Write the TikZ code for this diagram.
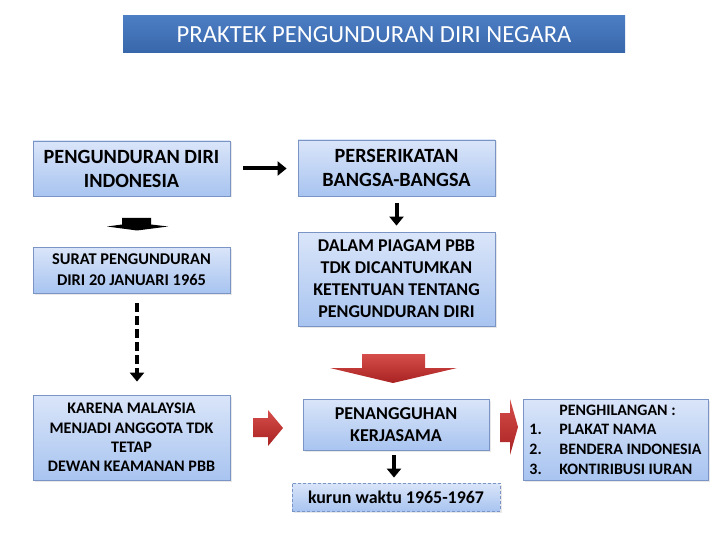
\documentclass[tikz,border=0pt]{standalone}
\usepackage{fontspec}
\setmainfont{Carlito}
\usetikzlibrary{arrows.meta,shadows}
\definecolor{boxtop}{RGB}{218,229,249}
\definecolor{boxbot}{RGB}{168,196,240}
\definecolor{boxline}{RGB}{122,148,198}
\definecolor{ttop}{RGB}{76,126,196}
\definecolor{tbot}{RGB}{56,102,170}
\definecolor{rtop}{RGB}{214,78,74}
\definecolor{rbot}{RGB}{168,34,34}
\tikzset{
  box/.style={draw=boxline, line width=0.8pt, top color=boxtop, bottom color=boxbot,
    inner sep=0pt, align=center, text=black,
    drop shadow={opacity=0.18, shadow xshift=1.5pt, shadow yshift=-1.5pt}},
  blk/.style={line width=4pt, draw=black, -{Triangle[length=9pt,width=14pt]}},
  redarrow/.style={top color=rtop, bottom color=rbot, draw=none},
}
\begin{document}
\begin{tikzpicture}[x=1pt,y=-1pt]
\useasboundingbox (0,0) rectangle (720,540);
% title
\node[draw=none, top color=ttop, bottom color=tbot, minimum width=502pt, minimum height=37pt,
  inner sep=0pt, text=white, font=\fontsize{24.6}{29}\selectfont] (title) at (374,34.5)
  {PRAKTEK PENGUNDURAN DIRI NEGARA};
% boxes
\node[box, minimum width=197pt, minimum height=55pt, font=\bfseries\fontsize{20.2}{24}\selectfont]
  (A) at (131.5,168.5) {PENGUNDURAN DIRI\\INDONESIA};
\node[box, minimum width=197pt, minimum height=46pt, font=\bfseries\fontsize{16.4}{21}\selectfont]
  (B) at (131.5,270) {SURAT PENGUNDURAN\\DIRI 20 JANUARI 1965};
\node[box, minimum width=197pt, minimum height=85pt, font=\bfseries\fontsize{16.1}{19.2}\selectfont]
  (C) at (131.5,437.5) {KARENA MALAYSIA\\MENJADI ANGGOTA TDK\\TETAP\\DEWAN KEAMANAN PBB};
\node[box, minimum width=197pt, minimum height=56pt, font=\bfseries\fontsize{20.2}{24}\selectfont]
  (D) at (396.5,168) {PERSERIKATAN\\BANGSA-BANGSA};
\node[box, minimum width=197pt, minimum height=94pt, font=\bfseries\fontsize{18}{22}\selectfont]
  (E) at (396.5,279) {DALAM PIAGAM PBB\\TDK DICANTUMKAN\\KETENTUAN TENTANG\\PENGUNDURAN DIRI};
\node[box, minimum width=186pt, minimum height=51pt, font=\bfseries\fontsize{18.1}{22}\selectfont]
  (F) at (396,424.5) {PENANGGUHAN\\KERJASAMA};
\node[box, dashed, dash pattern=on 3pt off 2pt, minimum width=208pt, minimum height=28pt,
  font=\bfseries\fontsize{17.9}{22}\selectfont]
  (G) at (396,497) {kurun waktu 1965-1967};
\node[box, minimum width=185pt, minimum height=81pt, align=left,
  font=\bfseries\fontsize{15.9}{19.7}\selectfont]
  (H) at (615.5,439.5) {\hspace*{30pt}PENGHILANGAN :\\
  \makebox[30pt][l]{1.}PLAKAT NAMA\\
  \makebox[30pt][l]{2.}BENDERA INDONESIA\\
  \makebox[30pt][l]{3.}KONTIRIBUSI IURAN\hspace*{4pt}};
% black arrows
\draw[blk, shorten <=13pt, shorten >=11pt] (A.east) -- (D.west |- A.east);
\draw[blk, shorten <=7pt, shorten >=6pt] (D.south) -- (E.north);
\coordinate (fs) at ([xshift=-2pt]F.south);
\draw[blk, shorten <=5pt, shorten >=5pt] (fs) -- (fs |- G.north);
\coordinate (bs) at ([xshift=5.5pt]B.south);
\draw[blk, dash pattern=on 9pt off 4pt, shorten <=10pt, shorten >=13pt] (bs) -- (bs |- C.north);
% squashed black arrow below A
\fill[black] (122,218) -- (151,218) -- (151,224.5) -- (168,226.5) -- (137,230.5) -- (107,226.5) -- (122,224.5) -- cycle;
% red block arrows
\path[redarrow] (362,354) -- (425,354) -- (425,368) -- (457,368) -- (393,383) -- (330,368) -- (362,368) -- cycle;
\path[redarrow] (253,418) -- (268,418) -- (268,410) -- (283,428) -- (268,446) -- (268,437) -- (253,437) -- cycle;
\path[redarrow] (500,413) -- (510,413) -- (510,399) -- (518,427) -- (510,455) -- (510,442) -- (500,442) -- cycle;
\end{tikzpicture}
\end{document}
